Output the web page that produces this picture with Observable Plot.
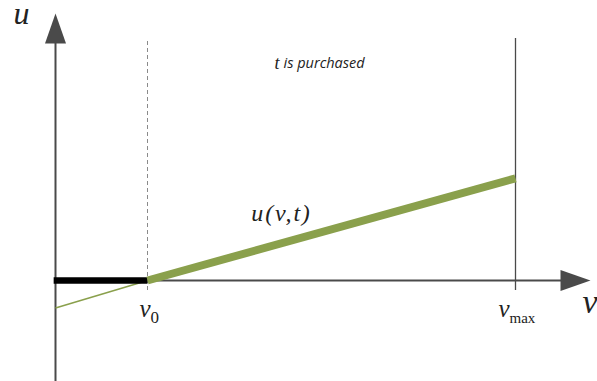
<!DOCTYPE html>
<html>
<head>
<meta charset="utf-8">
<script src="https://cdn.jsdelivr.net/npm/d3@7"></script>
<script src="https://cdn.jsdelivr.net/npm/@observablehq/plot@0.6"></script>
<style>
  html, body { margin: 0; padding: 0; background: #fff; }
  .serif text { font-family: "Liberation Serif", "DejaVu Serif", serif; }
  .wide text { letter-spacing: 1.8px; }
</style>
</head>
<body>
<div id="chart"></div>
<script>
// Key valuations on the v axis
const v0 = 1;
const vmax = 5;

// Utility u(v,t): below v0 (not purchased) and from v0 to vmax (purchased)
const thinV = [0, 1];
const thinU = [-0.30, 0];
const thickV = [1, 5];
const thickU = [0, 1.11];
// Zero-utility segment up to v0
const flatV = [-0.02, 1];
const flatU = [0, 0];

const tickLabels = ["v", "v"];
const tickSubs = ["0", "max"];

// Plot geometry: 92 px per unit, origin at (55, 280)
const W = 597, H = 381, ox = 55, oy = 280, k = 92;
const fx = p => (p - ox) / k;
const fy = p => (oy - p) / k;

const axisColor = "#4a4a4a";
const green = "#8aa04c";
const ink = "#222";

// Filled arrowhead, tip pointing up (rotated for the horizontal axis)
const arrowHead = {
  draw(ctx) {
    ctx.moveTo(0, -15);
    ctx.lineTo(10.5, 15);
    ctx.lineTo(-10.5, 15);
    ctx.closePath();
  }
};

const thin = thinV.map((v, i) => ({v, u: thinU[i]}));
const thick = thickV.map((v, i) => ({v, u: thickU[i]}));
const flat = flatV.map((v, i) => ({v, u: flatU[i]}));
const tickPos = [v0, vmax];
// horizontal nudge so each "v + subscript" label sits centred on its line
const tickNudge = [3, -6];

const tickMarks = tickPos.flatMap((v, i) => [
  Plot.text([v], {x: d => d, y: fy(316), text: () => tickLabels[i], className: "serif", fontStyle: "italic", fontSize: 25, fill: ink, textAnchor: "end", dx: tickNudge[i], lineAnchor: "bottom"}),
  Plot.text([v], {x: d => d, y: fy(322), text: () => tickSubs[i], className: "serif", fontSize: i === 0 ? 17 : 15, fill: ink, textAnchor: "start", dx: tickNudge[i], lineAnchor: "bottom"})
]);

const chart = Plot.plot({
  width: W,
  height: H,
  margin: 0,
  x: {domain: [fx(0), fx(W)], range: [0, W], axis: null},
  y: {domain: [fy(H), fy(0)], range: [H, 0], axis: null},
  marks: [
    // axes
    Plot.ruleY([0], {x1: fx(ox), x2: fx(565), stroke: axisColor, strokeWidth: 2}),
    Plot.ruleX([0], {y1: fy(H), y2: fy(38), stroke: axisColor, strokeWidth: 2}),
    Plot.dot([{v: fx(575), u: 0}], {x: "v", y: "u", symbol: arrowHead, rotate: 90, fill: axisColor, stroke: null}),
    Plot.dot([{v: 0, u: fy(28)}], {x: "v", y: "u", symbol: arrowHead, fill: axisColor, stroke: null}),
    // reference lines at v0 and vmax
    Plot.ruleX([v0], {y1: fy(290), y2: fy(40), stroke: "#8a8a8a", strokeWidth: 1, strokeDasharray: "4,3"}),
    Plot.ruleX([vmax], {y1: fy(290), y2: fy(38), stroke: axisColor, strokeWidth: 1.3}),
    // utility
    Plot.line(thin, {x: "v", y: "u", stroke: green, strokeWidth: 1.6, strokeLinecap: "butt"}),
    Plot.line(flat, {x: "v", y: "u", stroke: "#000", strokeWidth: 6.5, strokeLinecap: "butt"}),
    Plot.line(thick, {x: "v", y: "u", stroke: green, strokeWidth: 8, strokeLinecap: "butt"}),
    // tick labels
    ...tickMarks,
    // axis names
    Plot.text([{v: fx(21), u: fy(23)}], {x: "v", y: "u", text: () => "u", className: "serif", fontStyle: "italic", fontSize: 32, fill: ink, lineAnchor: "bottom"}),
    Plot.text([{v: fx(582), u: fy(312)}], {x: "v", y: "u", text: () => "v", className: "serif", fontStyle: "italic", fontSize: 34, fill: ink, textAnchor: "start", lineAnchor: "bottom"}),
    // annotations
    Plot.text([{v: fx(281), u: fy(220)}], {x: "v", y: "u", text: () => "u(v,t)", className: "serif wide", fontStyle: "italic", fontSize: 24, fill: ink, lineAnchor: "bottom"}),
    Plot.text([{v: fx(279), u: fy(68)}], {x: "v", y: "u", text: () => "t", className: "serif", fontStyle: "italic", fontSize: 18, fill: ink, textAnchor: "end", lineAnchor: "bottom"}),
    Plot.text([{v: fx(283), u: fy(67)}], {x: "v", y: "u", text: () => "is purchased", fontFamily: "'Open Sans', sans-serif", fontStyle: "italic", fontSize: 14.5, fill: ink, textAnchor: "start", lineAnchor: "bottom"})
  ]
});

document.getElementById("chart").appendChild(chart);
</script>
</body>
</html>
